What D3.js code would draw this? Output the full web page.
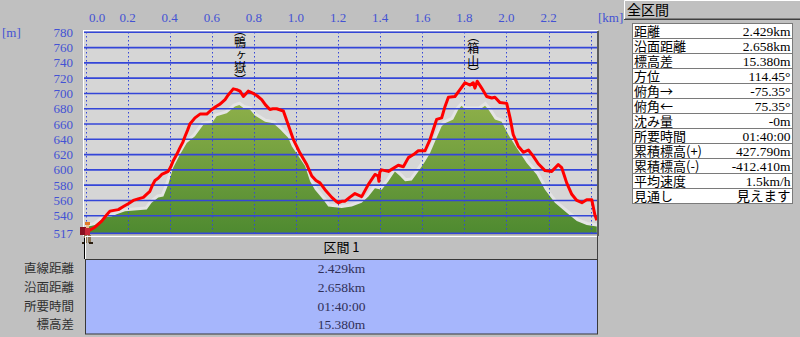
<!DOCTYPE html>
<html><head><meta charset="utf-8">
<script src="https://cdn.jsdelivr.net/npm/d3@7"></script>
<style>
html,body{margin:0;padding:0;background:#c0c0c0;}
svg{display:block;}
.jp{font-family:"Noto Sans CJK JP",sans-serif;}
.num{font-family:"Liberation Serif","Noto Sans CJK JP",serif;}
.vt{font-family:"Noto Sans CJK JP",sans-serif;writing-mode:vertical-rl;text-orientation:upright;}
</style></head><body>
<svg id="chart" width="800" height="337"></svg>
<script>
// route profile (red) - distance km / elevation m
var routeKm = [0,0.02,0.045,0.077,0.097,0.116,0.135,0.156,0.18,0.205,0.227,0.25,0.275,0.29,0.306,0.318,0.33,0.345,0.362,0.393,0.405,0.417,0.433,0.449,0.462,0.473,0.485,0.496,0.52,0.544,0.576,0.6,0.62,0.639,0.663,0.678,0.702,0.718,0.734,0.75,0.773,0.797,0.815,0.837,0.855,0.876,0.89,0.908,0.94,0.963,0.987,1.019,1.051,1.075,1.095,1.114,1.138,1.17,1.19,1.201,1.22,1.233,1.255,1.28,1.312,1.344,1.375,1.39,1.394,1.398,1.407,1.439,1.486,1.51,1.534,1.558,1.581,1.613,1.637,1.668,1.692,1.708,1.724,1.755,1.779,1.803,1.827,1.842,1.85,1.861,1.882,1.906,1.93,1.945,1.969,2.001,2.017,2.032,2.056,2.08,2.104,2.127,2.151,2.183,2.215,2.246,2.262,2.286,2.31,2.334,2.358,2.381,2.405,2.42,2.429];
var routeM = [520,521,525,533,540,546,547,548,552,556,560,562,564,568,572,580,586,589,594,598,604,612,620,629,636,644,652,660,668,673,673,679,683,686,692,698,706,705,703,696,703,700,697,692,685,679,680,680,677,659,640,622,607,592,586,583,574,564,559,557,559,559,564,569,565,581,594,592,585,597,600,598,606,604,616,620,625,625,640,666,668,683,695,696,705,714,711,714,707,716,707,696,694,695,688,687,668,646,631,623,626,618,608,599,598,607,603,583,568,560,557,561,561,541,534];

// terrain cross-section (green)
var groundKm = [0,0.045,0.069,0.093,0.124,0.148,0.188,0.291,0.314,0.346,0.37,0.393,0.417,0.449,0.481,0.52,0.56,0.6,0.623,0.671,0.71,0.731,0.75,0.781,0.805,0.853,0.892,0.924,0.963,0.98,1.011,1.043,1.067,1.09,1.13,1.153,1.217,1.265,1.312,1.344,1.375,1.407,1.439,1.47,1.494,1.518,1.55,1.581,1.613,1.637,1.668,1.692,1.708,1.747,1.771,1.787,1.803,1.874,1.898,1.914,1.945,1.977,2.009,2.048,2.096,2.143,2.183,2.23,2.286,2.334,2.381,2.429];
var groundM = [525,528,533,538,539,542,546,548,557,564,565,581,603,620,635,644,659,661,670,674,683,685,681,679,671,663,661,653,642,631,618,605,585,574,561,552,550,552,557,565,576,574,585,598,592,585,586,598,611,622,642,657,661,666,679,684,679,679,684,679,666,663,646,629,609,594,574,557,544,533,528,526];

var xTicks = [0,0.2,0.4,0.6,0.8,1.0,1.2,1.4,1.6,1.8,2.0,2.2];
var xGrid = [0.2,0.4,0.6,0.8,1.0,1.2,1.4,1.6,1.8,2.0,2.2,2.4];
var yTicks = [780,760,740,720,700,680,660,640,620,600,580,560,540];
var yMin = 517, yMax = 780, totalKm = 2.429;

var peakNames = ["鴨ヶ嶽", "箱山"];
var peakKm = [0.734, 1.842];

var summaryLabels = ["距離","沿面距離","標高差","方位","俯角→","俯角←","沈み量","所要時間","累積標高(+)","累積標高(-)","平均速度","見通し"];
var summaryValues = ["2.429km","2.658km","15.380m","114.45°","-75.35°","75.35°","-0m","01:40:00","427.790m","-412.410m","1.5km/h","見えます"];

var sectionTitle = "区間 1";
var sectionLabels = ["直線距離","沿面距離","所要時間","標高差"];
var sectionValues = ["2.429km","2.658km","01:40:00","15.380m"];

var svg = d3.select('#chart');
var axisBlue = '#4352d4', gridBlue = '#3446d8';

var x = d3.scaleLinear().domain([0, totalKm]).range([85.5, 596.8]);
var y = d3.scaleLinear().domain([yMin, yMax]).range([233.3, 32.3]);

svg.append('rect').attr('width', 800).attr('height', 337).attr('fill', '#c0c0c0');

// plot background
svg.append('rect').attr('x', 84).attr('y', 31).attr('width', 514).attr('height', 203).attr('fill', '#d6d6d6');

var defs = svg.append('defs');
var grad = defs.append('linearGradient').attr('id', 'gg').attr('gradientUnits', 'userSpaceOnUse')
  .attr('x1', 0).attr('x2', 0).attr('y1', y(690)).attr('y2', y(yMin));
grad.append('stop').attr('offset', 0).attr('stop-color', '#8fb04a');
grad.append('stop').attr('offset', 1).attr('stop-color', '#4e8a30');
defs.append('clipPath').attr('id', 'pc').append('rect')
  .attr('x', 84).attr('y', 31).attr('width', 513).attr('height', 203);

var ground = groundKm.map(function(d, i){ return [d, groundM[i]]; });
var route = routeKm.map(function(d, i){ return [d, routeM[i]]; });

var plot = svg.append('g').attr('clip-path', 'url(#pc)');
plot.append('path').datum(ground)
  .attr('d', d3.line().x(function(d){ return x(d[0]); }).y(function(d){ return y(d[1]); }))
  .attr('fill', 'none').attr('stroke', '#e4e4e4').attr('stroke-width', 6);
plot.append('path').datum(ground)
  .attr('d', d3.area().x(function(d){ return x(d[0]); }).y0(y(yMin) + 2).y1(function(d){ return y(d[1]); }))
  .attr('fill', 'url(#gg)');

// grid
plot.selectAll('.hg').data(yTicks.concat([yMin])).enter().append('line')
  .attr('x1', 84).attr('x2', 597)
  .attr('y1', function(d){ return y(d); }).attr('y2', function(d){ return y(d); })
  .attr('stroke', gridBlue).attr('stroke-width', 1.6);
plot.selectAll('.vg').data([0].concat(xGrid)).enter().append('line')
  .attr('x1', function(d){ return Math.round(x(d)) + 0.5; }).attr('x2', function(d){ return Math.round(x(d)) + 0.5; })
  .attr('y1', 32).attr('y2', 234)
  .attr('stroke', gridBlue).attr('stroke-width', 1).attr('stroke-dasharray', '1.5,2.5');

plot.append('path').datum(route)
  .attr('d', d3.line().x(function(d){ return x(d[0]); }).y(function(d){ return y(d[1]); }))
  .attr('fill', 'none').attr('stroke', '#ff0000').attr('stroke-width', 3).attr('stroke-linejoin', 'round');

// frame
svg.append('line').attr('x1', 83).attr('x2', 598).attr('y1', 30.5).attr('y2', 30.5).attr('stroke', '#ffffff');
svg.append('line').attr('x1', 83.5).attr('x2', 83.5).attr('y1', 31).attr('y2', 236).attr('stroke', '#ffffff');
svg.append('line').attr('x1', 598).attr('x2', 598).attr('y1', 31).attr('y2', 236).attr('stroke', '#5a5a5a').attr('stroke-width', 2);
svg.append('line').attr('x1', 84).attr('x2', 597).attr('y1', 234.5).attr('y2', 234.5).attr('stroke', '#a8a8a8');

// axis labels
svg.selectAll('.xl').data(xTicks).enter().append('text').attr('class', 'num')
  .attr('x', function(d){ return Math.max(x(d), x(0) + 11.5); }).attr('y', 22)
  .attr('text-anchor', 'middle').attr('font-size', 13).attr('fill', axisBlue)
  .text(function(d){ return d.toFixed(1); });
svg.append('text').attr('class', 'num').attr('x', 598).attr('y', 22).attr('font-size', 13).attr('fill', axisBlue).text('[km]');
svg.selectAll('.yl').data(yTicks.concat([yMin])).enter().append('text').attr('class', 'num')
  .attr('x', 73).attr('y', function(d){ return y(d) + 4.5; })
  .attr('text-anchor', 'end').attr('font-size', 13).attr('fill', axisBlue).text(function(d){ return d; });
svg.append('text').attr('class', 'num').attr('x', 2).attr('y', 37).attr('font-size', 13).attr('fill', axisBlue).text('[m]');

// peak names, vertical text
svg.selectAll('.pk').data(peakNames).enter().append('text').attr('class', 'vt')
  .attr('x', function(d, i){ return x(peakKm[i]); })
  .attr('y', function(d){ return 49 - (d.length + 1) * 12.5 / 2; })
  .attr('font-size', 12).attr('letter-spacing', 0.5).attr('fill', '#000')
  .text(function(d){ return '︵' + d + '︶'; });

// hiker marker at route start
var hk = svg.append('g').attr('transform', 'translate(' + Math.round(x(routeKm[0])) + ',' + Math.round(y(routeM[0])) + ')');
hk.append('rect').attr('x', -1).attr('y', -9).attr('width', 5).attr('height', 3).attr('fill', '#e07a28');
hk.append('rect').attr('x', 0).attr('y', -6).attr('width', 3).attr('height', 3).attr('fill', '#f0c090');
hk.append('rect').attr('x', -6).attr('y', -4).attr('width', 6).attr('height', 8).attr('fill', '#8a1020');
hk.append('rect').attr('x', -1).attr('y', -3).attr('width', 5).attr('height', 7).attr('fill', '#c82838');
hk.append('rect').attr('x', -2).attr('y', 4).attr('width', 3).attr('height', 8).attr('fill', '#8c7452');
hk.append('rect').attr('x', 2).attr('y', 4).attr('width', 3).attr('height', 8).attr('fill', '#8c7452');
hk.append('rect').attr('x', -4).attr('y', 11).attr('width', 4).attr('height', 2).attr('fill', '#2a1e10');
hk.append('rect').attr('x', 3).attr('y', 11).attr('width', 4).attr('height', 2).attr('fill', '#2a1e10');

// section panel
var sx0 = 85, sx1 = 598;
svg.append('line').attr('x1', sx0).attr('x2', sx1).attr('y1', 236.5).attr('y2', 236.5).attr('stroke', '#fff');
svg.append('line').attr('x1', sx0 + 0.5).attr('x2', sx0 + 0.5).attr('y1', 236).attr('y2', 259).attr('stroke', '#fff');
svg.append('line').attr('x1', 84.5).attr('x2', 84.5).attr('y1', 238).attr('y2', 259).attr('stroke', '#000');
svg.append('line').attr('x1', sx1 - 0.5).attr('x2', sx1 - 0.5).attr('y1', 236).attr('y2', 259).attr('stroke', '#404040');
svg.append('text').attr('class', 'jp').attr('x', (sx0 + sx1) / 2).attr('y', 252)
  .attr('text-anchor', 'middle').attr('font-size', 13).attr('fill', '#000').text(sectionTitle);
var bandTop = 259.5, bandBot = 334, rowH = (bandBot - bandTop) / sectionLabels.length;
svg.append('rect').attr('x', sx0 + 0.5).attr('y', bandTop).attr('width', sx1 - sx0 - 1).attr('height', bandBot - bandTop)
  .attr('fill', '#a6b6fc').attr('stroke', '#383838');
svg.selectAll('.sl').data(sectionLabels).enter().append('text').attr('class', 'jp')
  .attr('x', 74).attr('y', function(d, i){ return bandTop + rowH * (i + 0.5) + 4.5; })
  .attr('text-anchor', 'end').attr('font-size', 12.5).attr('fill', '#303030').text(function(d){ return d; });
svg.selectAll('.sv').data(sectionValues).enter().append('text').attr('class', 'num')
  .attr('x', (sx0 + sx1) / 2).attr('y', function(d, i){ return bandTop + rowH * (i + 0.5) + 4.5; })
  .attr('text-anchor', 'middle').attr('font-size', 13.5).attr('fill', '#303058').text(function(d){ return d; });

// summary header button
svg.append('rect').attr('x', 624.5).attr('y', 0.5).attr('width', 176).attr('height', 18).attr('fill', '#c0c0c0');
svg.append('path').attr('d', 'M624.5,19V0.5H800').attr('fill', 'none').attr('stroke', '#fff');
svg.append('line').attr('x1', 624).attr('x2', 800).attr('y1', 19.5).attr('y2', 19.5).attr('stroke', '#404040');
svg.append('line').attr('x1', 625).attr('x2', 800).attr('y1', 18.5).attr('y2', 18.5).attr('stroke', '#808080');
svg.append('text').attr('class', 'jp').attr('x', 627).attr('y', 15).attr('font-size', 14).attr('fill', '#000').text('全区間');

// summary table
var tx0 = 632.5, tx1 = 792.5, ty0 = 23.5, tRow = 15;
svg.append('rect').attr('x', tx0).attr('y', ty0).attr('width', tx1 - tx0).attr('height', tRow * summaryLabels.length)
  .attr('fill', '#fff').attr('stroke', '#7a7a7a');
svg.selectAll('.tr').data(summaryLabels.slice(1)).enter().append('line')
  .attr('x1', tx0).attr('x2', tx1)
  .attr('y1', function(d, i){ return ty0 + tRow * (i + 1); }).attr('y2', function(d, i){ return ty0 + tRow * (i + 1); })
  .attr('stroke', '#7a7a7a');
svg.selectAll('.tl').data(summaryLabels).enter().append('text').attr('class', 'jp')
  .attr('x', tx0 + 1.5).attr('y', function(d, i){ return ty0 + tRow * i + 12.5; })
  .attr('font-size', 13).attr('fill', '#000').text(function(d){ return d; });
svg.selectAll('.tv').data(summaryValues).enter().append('text').attr('class', 'num')
  .attr('x', tx1 - 2).attr('y', function(d, i){ return ty0 + tRow * i + 12.5; })
  .attr('text-anchor', 'end').attr('font-size', 13.5).attr('fill', '#000').text(function(d){ return d; });
</script>
</body></html>
